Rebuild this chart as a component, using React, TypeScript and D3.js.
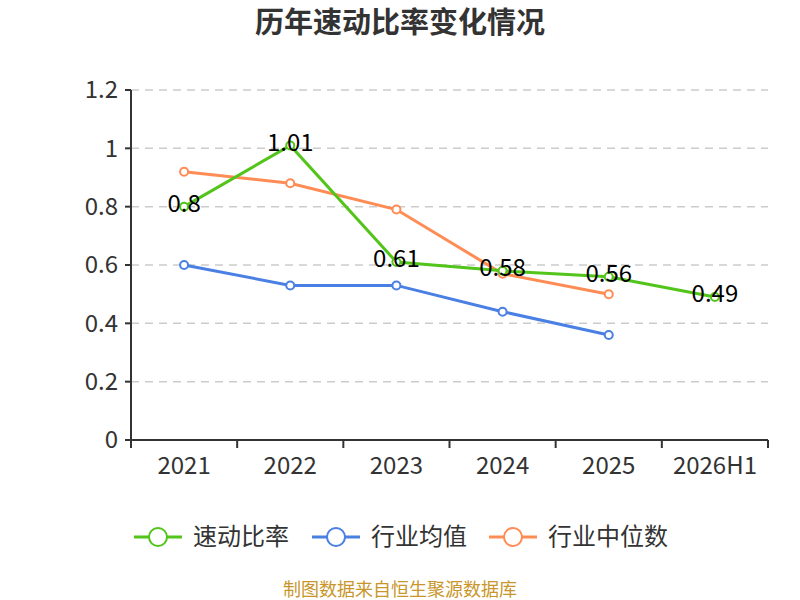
import React from "react";
import * as d3 from "d3";

const categories = ["2021", "2022", "2023", "2024", "2025", "2026H1"];
const quickRatio = [0.8, 1.01, 0.61, 0.58, 0.56, 0.49];
const industryAvg = [0.6, 0.53, 0.53, 0.44, 0.36];
const industryMedian = [0.92, 0.88, 0.79, 0.57, 0.5];
const yTicks = [0, 0.2, 0.4, 0.6, 0.8, 1, 1.2];
const seriesNames = ["速动比率", "行业均值", "行业中位数"];
const title = "历年速动比率变化情况";
const source = "制图数据来自恒生聚源数据库";

const colors = ["#52c41a", "#4a7fe3", "#ff8c55"];
const FONT = "'Noto Sans CJK SC', 'Noto Sans', sans-serif";

export default function App() {
  const W = 800, H = 600;
  const left = 131, right = 768, top = 90, bottom = 440;
  const x = d3.scaleBand<string>().domain(categories).range([left, right]);
  const y = d3.scaleLinear().domain([0, 1.2]).range([bottom, top]);
  const cx = (c: string) => (x(c) as number) + x.bandwidth() / 2;
  const line = d3
    .line<number>()
    .x((_, i) => cx(categories[i]))
    .y((d) => y(d));

  const data = [quickRatio, industryAvg, industryMedian];
  const legendX = [134, 312, 489];

  return (
    <svg width={W} height={H} style={{ position: "absolute", left: 0, top: 0, fontFamily: FONT }}>
      <rect width={W} height={H} fill="#fff" />
      <text x={400} y={23} dy="0.35em" textAnchor="middle" fontSize={29} fontWeight="bold" fill="#333">
        {title}
      </text>
      {yTicks.map((t) => (
        <g key={t}>
          {t !== 0 && (
            <line x1={left} x2={right} y1={y(t)} y2={y(t)} stroke="#ccc" strokeDasharray="8,6" strokeWidth={1.5} />
          )}
          <line x1={left - 6} x2={left} y1={y(t)} y2={y(t)} stroke="#333" strokeWidth={2} />
          <text x={left - 13} y={y(t)} dy="0.35em" textAnchor="end" fontSize={24} fill="#333">
            {t}
          </text>
        </g>
      ))}
      <line x1={left} x2={left} y1={top} y2={bottom} stroke="#333" strokeWidth={2} />
      <line x1={left} x2={right} y1={bottom} y2={bottom} stroke="#333" strokeWidth={2} />
      {categories.map((c, i) => (
        <g key={c}>
          <line x1={x(c) as number} x2={x(c) as number} y1={bottom} y2={bottom + 8} stroke="#333" strokeWidth={2} />
          {i === categories.length - 1 && (
            <line x1={right} x2={right} y1={bottom} y2={bottom + 8} stroke="#333" strokeWidth={2} />
          )}
          <text x={cx(c)} y={466} dy="0.35em" textAnchor="middle" fontSize={24} fill="#333">
            {c}
          </text>
        </g>
      ))}
      {[2, 1, 0].map((s) => (
        <g key={s}>
          <path d={line(data[s]) || ""} fill="none" stroke={colors[s]} strokeWidth={3} />
          {data[s].map((v, i) => (
            <circle key={i} cx={cx(categories[i])} cy={y(v)} r={4} fill="#fff" stroke={colors[s]} strokeWidth={2} />
          ))}
        </g>
      ))}
      {quickRatio.map((v, i) => (
        <text key={i} x={cx(categories[i])} y={y(v) - 3} dy="0.35em" textAnchor="middle" fontSize={24} fill="#000">
          {v}
        </text>
      ))}
      {seriesNames.map((n, i) => (
        <g key={n}>
          <line x1={legendX[i]} x2={legendX[i] + 48} y1={537} y2={537} stroke={colors[i]} strokeWidth={3} />
          <circle cx={legendX[i] + 24} cy={537} r={9} fill="#fff" stroke={colors[i]} strokeWidth={2} />
          <text x={legendX[i] + 59} y={537} dy="0.35em" fontSize={24} fill="#333">
            {n}
          </text>
        </g>
      ))}
      <text x={400} y={590} dy="0.35em" textAnchor="middle" fontSize={18} fill="#c8962a">
        {source}
      </text>
    </svg>
  );
}
